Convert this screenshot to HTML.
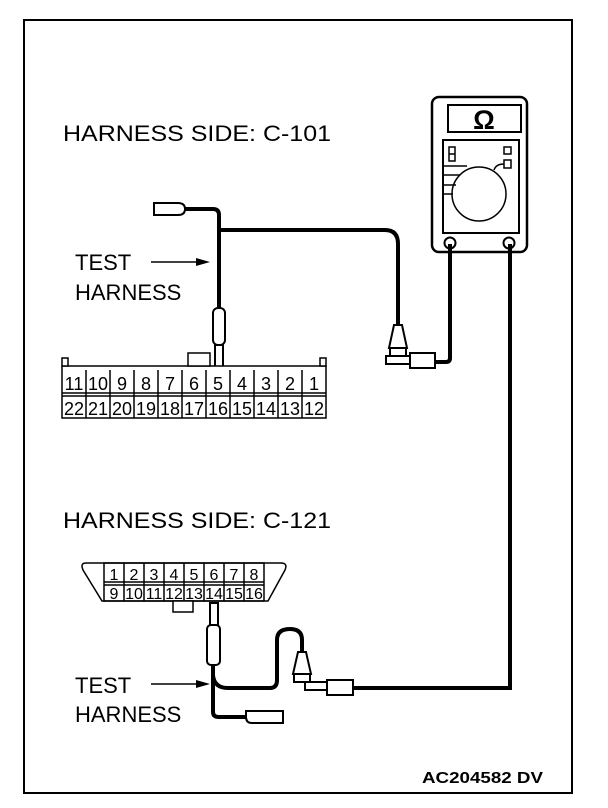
<!DOCTYPE html>
<html><head><style>html,body{margin:0;padding:0;background:#fff}svg{display:block}</style></head>
<body>
<svg width="608" height="808" viewBox="0 0 608 808" xmlns="http://www.w3.org/2000/svg" font-family="Liberation Sans, Arial, sans-serif">
<rect x="24" y="20" width="548" height="773" fill="none" stroke="#000" stroke-width="2"/>

<text x="63" y="141" font-size="22" textLength="268" lengthAdjust="spacingAndGlyphs">HARNESS SIDE: C-101</text>
<text x="75" y="270" font-size="22">TEST</text>
<text x="75" y="300" font-size="22">HARNESS</text>
<text x="63" y="528" font-size="22" textLength="268" lengthAdjust="spacingAndGlyphs">HARNESS SIDE: C-121</text>
<text x="75" y="693" font-size="22">TEST</text>
<text x="75" y="722" font-size="22">HARNESS</text>
<text x="422" y="783" font-size="16" font-weight="bold" textLength="121" lengthAdjust="spacingAndGlyphs">AC204582 DV</text>

<line x1="151" y1="262" x2="200" y2="262" stroke="#000" stroke-width="1.5"/>
<polygon points="210,262 196,258 196,266" fill="#000"/>
<line x1="151" y1="684" x2="200" y2="684" stroke="#000" stroke-width="1.5"/>
<polygon points="210,684 196,680 196,688" fill="#000"/>

<!-- meter -->
<rect x="432" y="97" width="95" height="155" rx="7" fill="#fff" stroke="#000" stroke-width="2.5"/>
<rect x="448" y="105" width="73" height="27" fill="#fff" stroke="#000" stroke-width="2"/>
<text x="484" y="129" font-size="27" font-weight="bold" text-anchor="middle">Ω</text>
<rect x="443" y="140" width="76" height="93" fill="#fff" stroke="#000" stroke-width="2"/>
<rect x="449" y="147" width="6" height="14" fill="none" stroke="#000" stroke-width="1.5"/>
<line x1="449" y1="154" x2="455" y2="154" stroke="#000" stroke-width="1.5"/>
<rect x="504" y="147" width="7" height="7" fill="none" stroke="#000" stroke-width="1.5"/>
<rect x="504" y="160" width="7" height="8" fill="none" stroke="#000" stroke-width="1.5"/>
<circle cx="479" cy="194" r="27" fill="#fff" stroke="#000" stroke-width="1.5"/>
<path d="M443 166 H467 M443 175 H460 M443 185 H456 M443 194 H453 M494 170 Q496 164 504 164" fill="none" stroke="#000" stroke-width="1.5"/>
<circle cx="450" cy="243" r="5.5" fill="#fff" stroke="#000" stroke-width="2"/>
<circle cx="509" cy="243" r="5.5" fill="#fff" stroke="#000" stroke-width="2"/>

<path d="M450 244 V358 Q450 362 446 362 H434" fill="none" stroke="#000" stroke-width="4"/>
<path d="M510 244 V688 H353" fill="none" stroke="#000" stroke-width="4"/>

<!-- top harness -->
<path d="M154 203 H178 Q185 203 185 209 Q185 215 178 215 H154 Z" fill="#fff" stroke="#000" stroke-width="2"/>
<path d="M185 209 H213 Q219 209 219 215 V310" fill="none" stroke="#000" stroke-width="4"/>
<path d="M219 230 H385 Q398 230 398 244 V325" fill="none" stroke="#000" stroke-width="4"/>
<rect x="213" y="308" width="12" height="37" rx="5" fill="#fff" stroke="#000" stroke-width="2"/>
<rect x="215" y="345" width="8" height="25" fill="#fff" stroke="#000" stroke-width="2"/>
<path d="M394 325 H402 L407 348 H389 Z" fill="#fff" stroke="#000" stroke-width="2"/>
<rect x="390" y="348" width="16" height="8" fill="#fff" stroke="#000" stroke-width="2"/>
<rect x="386" y="356" width="24" height="8" fill="#fff" stroke="#000" stroke-width="2"/>
<rect x="410" y="353" width="25" height="15" fill="#fff" stroke="#000" stroke-width="2"/>

<!-- connector C-101 -->
<g stroke="#000" stroke-width="1.5" fill="#fff">
<rect x="62" y="366" width="264" height="52"/>
<rect x="188" y="353" width="22" height="13"/>
<rect x="62" y="358" width="6" height="8"/>
<rect x="320" y="358" width="6" height="8"/>
<line x1="62" y1="393" x2="326" y2="393"/>
<line x1="62" y1="396" x2="326" y2="396"/>
</g>
<g stroke="#000" stroke-width="1.5">
<line x1="86" y1="370" x2="86" y2="418"/><line x1="110" y1="370" x2="110" y2="418"/><line x1="134" y1="370" x2="134" y2="418"/><line x1="158" y1="370" x2="158" y2="418"/><line x1="182" y1="370" x2="182" y2="418"/><line x1="206" y1="370" x2="206" y2="418"/><line x1="230" y1="370" x2="230" y2="418"/><line x1="254" y1="370" x2="254" y2="418"/><line x1="278" y1="370" x2="278" y2="418"/><line x1="302" y1="370" x2="302" y2="418"/>
</g>
<g font-size="18" text-anchor="middle">
<text x="74" y="390">11</text><text x="98" y="390">10</text><text x="122" y="390">9</text><text x="146" y="390">8</text><text x="170" y="390">7</text><text x="194" y="390">6</text><text x="218" y="390">5</text><text x="242" y="390">4</text><text x="266" y="390">3</text><text x="290" y="390">2</text><text x="314" y="390">1</text>
<text x="74" y="415">22</text><text x="98" y="415">21</text><text x="122" y="415">20</text><text x="146" y="415">19</text><text x="170" y="415">18</text><text x="194" y="415">17</text><text x="218" y="415">16</text><text x="242" y="415">15</text><text x="266" y="415">14</text><text x="290" y="415">13</text><text x="314" y="415">12</text>
</g>

<!-- connector C-121 -->
<path d="M86 563 H281 Q288 563 285 570 L268 601 H102 L83 570 Q80 563 86 563 Z" fill="#fff" stroke="#000" stroke-width="1.5"/>
<rect x="104" y="563" width="160" height="38" fill="none" stroke="#000" stroke-width="1.5"/>
<line x1="104" y1="582" x2="264" y2="582" stroke="#000" stroke-width="1.5"/>
<line x1="104" y1="585" x2="264" y2="585" stroke="#000" stroke-width="1.5"/>
<g stroke="#000" stroke-width="1.5">
<line x1="124" y1="563" x2="124" y2="601"/><line x1="144" y1="563" x2="144" y2="601"/><line x1="164" y1="563" x2="164" y2="601"/><line x1="184" y1="563" x2="184" y2="601"/><line x1="204" y1="563" x2="204" y2="601"/><line x1="224" y1="563" x2="224" y2="601"/><line x1="244" y1="563" x2="244" y2="601"/>
</g>
<rect x="173" y="601" width="20" height="11" fill="#fff" stroke="#000" stroke-width="1.5"/>
<g font-size="16" text-anchor="middle">
<text x="114" y="580">1</text><text x="134" y="580">2</text><text x="154" y="580">3</text><text x="174" y="580">4</text><text x="194" y="580">5</text><text x="214" y="580">6</text><text x="234" y="580">7</text><text x="254" y="580">8</text>
<text x="114" y="599">9</text><text x="134" y="599">10</text><text x="154" y="599">11</text><text x="174" y="599">12</text><text x="194" y="599">13</text><text x="214" y="599">14</text><text x="234" y="599">15</text><text x="254" y="599">16</text>
</g>

<!-- bottom harness -->
<path d="M213 665 V712 Q213 717 219 717 H246" fill="none" stroke="#000" stroke-width="4"/>
<path d="M213 675 Q214 688 228 688 H270 Q277 688 277 680 V640 Q277 629 290 629 Q302 629 302 640 V652" fill="none" stroke="#000" stroke-width="4"/>
<path d="M246 711 H283 V723 H252 Q246 723 246 717 Z" fill="#fff" stroke="#000" stroke-width="2"/>
<rect x="210" y="603" width="8" height="23" fill="#fff" stroke="#000" stroke-width="2"/>
<rect x="207" y="625" width="13" height="40" rx="4" fill="#fff" stroke="#000" stroke-width="2"/>
<path d="M298 652 H306 L311 674 H293 Z" fill="#fff" stroke="#000" stroke-width="2"/>
<rect x="294" y="674" width="16" height="8" fill="#fff" stroke="#000" stroke-width="2"/>
<rect x="305" y="682" width="22" height="8" fill="#fff" stroke="#000" stroke-width="2"/>
<rect x="327" y="680" width="26" height="15" fill="#fff" stroke="#000" stroke-width="2"/>
</svg>
</body></html>
